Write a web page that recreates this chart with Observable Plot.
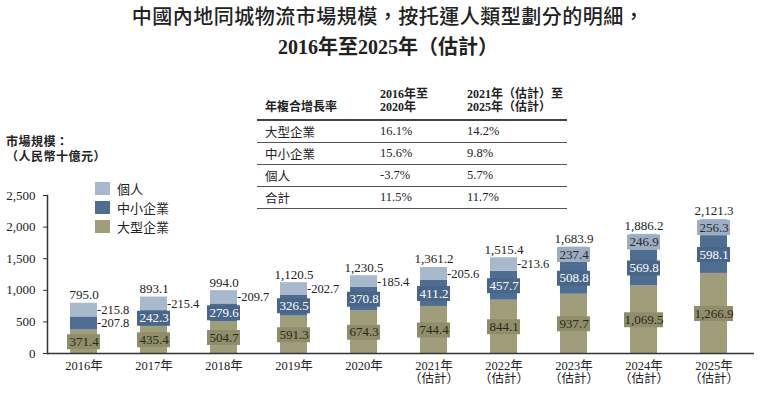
<!DOCTYPE html>
<html><head><meta charset="utf-8">
<script src="https://cdn.jsdelivr.net/npm/d3@7"></script>
<script src="https://cdn.jsdelivr.net/npm/@observablehq/plot@0.6"></script>
<style>
body{margin:0;background:#fff;}
#wrap{position:relative;width:776px;height:399px;overflow:hidden;font-family:"Liberation Serif","Noto Sans CJK TC",serif;color:#222;}
#chart{position:absolute;left:0;top:0;}
.title1{position:absolute;left:0;width:776px;top:5px;text-align:center;font-size:20px;font-weight:500;letter-spacing:0.5px;line-height:24px;}
.title2{position:absolute;left:0;width:776px;top:35px;text-align:center;font-size:20px;font-weight:bold;line-height:24px;}
.ytitle{position:absolute;left:6px;top:135px;font-size:12px;font-weight:bold;line-height:15px;letter-spacing:0.5px;}
#legend{position:absolute;left:95px;top:179px;font-size:13px;}
#legend .item{display:flex;align-items:center;height:19px;}
#legend .sw{width:15px;height:13px;margin-right:7px;}
#tbl{position:absolute;left:257px;top:84px;}
#tbl table{border-collapse:collapse;font-size:12.5px;}
#tbl th{font-weight:bold;font-size:12px;line-height:13px;text-align:left;vertical-align:bottom;height:30px;padding:0 0 5px 0;border-bottom:2px solid #444;}
#tbl td{height:21px;padding:0;border-bottom:1.5px solid #555;vertical-align:middle;}
#tbl .c1{width:115px;padding-left:8px;}
#tbl .c2{width:87px;}
#tbl .c3{width:100px;}
</style></head><body>
<div id="wrap">
<div id="chart"></div>
<div class="title1">中國內地同城物流市場規模，按托運人類型劃分的明細，</div>
<div class="title2">2016年至2025年（估計）</div>
<div class="ytitle">市場規模：<br>（人民幣十億元）</div>
<div id="legend"></div>
<div id="tbl"></div>
</div>
<script>
// ---- data ----
const years = ["2016年","2017年","2018年","2019年","2020年","2021年\n（估計）","2022年\n（估計）","2023年\n（估計）","2024年\n（估計）","2025年\n（估計）"];
const large = [371.4, 435.4, 504.7, 591.3, 674.3, 744.4, 844.1, 937.7, 1069.5, 1266.9];
const sme = [207.8, 242.3, 279.6, 326.5, 370.8, 411.2, 457.7, 508.8, 569.8, 598.1];
const individual = [215.8, 215.4, 209.7, 202.7, 185.4, 205.6, 213.6, 237.4, 246.9, 256.3];
const totals = [795.0, 893.1, 994.0, 1120.5, 1230.5, 1361.2, 1515.4, 1683.9, 1886.2, 2121.3];
const seriesNames = ["大型企業", "中小企業", "個人"];
const legendOrder = ["個人", "中小企業", "大型企業"];
const yTicks = [0, 500, 1000, 1500, 2000, 2500];

const cagrHeader = ["年複合增長率", "2016年至\n2020年", "2021年（估計）至\n2025年（估計）"];
const cagrLabels = ["大型企業", "中小企業", "個人", "合計"];
const cagr2016to2020 = ["16.1%", "15.6%", "-3.7%", "11.5%"];
const cagr2021to2025 = ["14.2%", "9.8%", "5.7%", "11.7%"];

// ---- styles ----
const colors = {"大型企業": "#a09e7a", "中小企業": "#4f6d91", "個人": "#a8b8cd"};
const boxColors = {"大型企業": "#8f8d6a", "中小企業": "#476689", "個人": "#9cadc4"};
const labelColors = {"大型企業": "#2a2a1a", "中小企業": "#ffffff", "個人": "#2a2a2a"};
const fmt = d3.format(",.1f");
const FONT = '"Liberation Serif","Noto Sans CJK TC",serif';

// ---- build table ----
const rows = [];
years.forEach((yr, i) => {
  const vals = [large[i], sme[i], individual[i]];
  let acc = 0;
  seriesNames.forEach((s, j) => {
    const v = vals[j];
    rows.push({year: yr, series: s, value: v, y1: acc, y2: acc + v, mid: acc + v / 2, outside: v < 230});
    acc += v;
  });
});
const totalRows = years.map((yr, i) => ({year: yr, total: totals[i]}));
const inside = rows.filter(d => !d.outside);
const outside = rows.filter(d => d.outside);

const marks = [
  Plot.barY(rows, {x: "year", y1: "y1", y2: "y2", fill: d => colors[d.series]}),
];
seriesNames.forEach(s => {
  const sub = inside.filter(d => d.series === s);
  marks.push(Plot.tickY(sub.filter(d => d.value < 1000), {x: "year", y: "mid", stroke: boxColors[s], strokeWidth: 15, insetLeft: -3, insetRight: -3}));
  marks.push(Plot.tickY(sub.filter(d => d.value >= 1000), {x: "year", y: "mid", stroke: boxColors[s], strokeWidth: 15, insetLeft: -6, insetRight: -6}));
  marks.push(Plot.text(sub, {x: "year", y: "mid", text: d => fmt(d.value), fill: labelColors[s], fontSize: 13, fontFamily: FONT}));
});
marks.push(
  Plot.text(outside, {x: "year", y: "mid", text: d => "-" + fmt(d.value), textAnchor: "start", dx: 13, fill: "#222", fontSize: 12.5, fontFamily: FONT}),
  Plot.text(totalRows, {x: "year", y: "total", text: d => fmt(d.total), lineAnchor: "bottom", dy: -4, fill: "#222", fontSize: 13, fontFamily: FONT}),
  Plot.ruleY([0], {stroke: "#333", strokeWidth: 1.5}),
  Plot.frame({anchor: "left", stroke: "#333", strokeWidth: 1.5}),
  Plot.axisY({ticks: yTicks, tickFormat: d3.format(","), tickSize: 4, tickPadding: 8, label: null, fontSize: 13, fontFamily: FONT, stroke: "#333"}),
  Plot.axisX({tickSize: 0, tickPadding: 7, label: null, fontSize: 12.5, fontFamily: FONT, lineHeight: 1.05})
);

const chart = Plot.plot({
  width: 776,
  height: 399,
  marginTop: 195,
  marginBottom: 46,
  marginLeft: 47,
  marginRight: 22,
  style: {fontFamily: FONT, color: "#222", background: "transparent"},
  x: {domain: years, paddingInner: 0.6175, paddingOuter: 0.315, align: 0.45},
  y: {domain: [0, 2500]},
  marks
});
document.getElementById("chart").appendChild(chart);

// ---- legend ----
const lg = document.getElementById("legend");
legendOrder.forEach(s => {
  const it = document.createElement("div");
  it.className = "item";
  it.innerHTML = `<div class="sw" style="background:${colors[s]}"></div><span>${s}</span>`;
  lg.appendChild(it);
});

// ---- CAGR table ----
const tb = document.createElement("table");
const thead = document.createElement("tr");
cagrHeader.forEach((h, i) => {
  const th = document.createElement("th");
  th.className = "c" + (i + 1);
  th.innerHTML = h.replace("\n", "<br>");
  thead.appendChild(th);
});
tb.appendChild(thead);
cagrLabels.forEach((l, i) => {
  const tr = document.createElement("tr");
  [l, cagr2016to2020[i], cagr2021to2025[i]].forEach((v, j) => {
    const td = document.createElement("td");
    td.className = "c" + (j + 1);
    td.textContent = v;
    tr.appendChild(td);
  });
  tb.appendChild(tr);
});
document.getElementById("tbl").appendChild(tb);
</script>
</body></html>
